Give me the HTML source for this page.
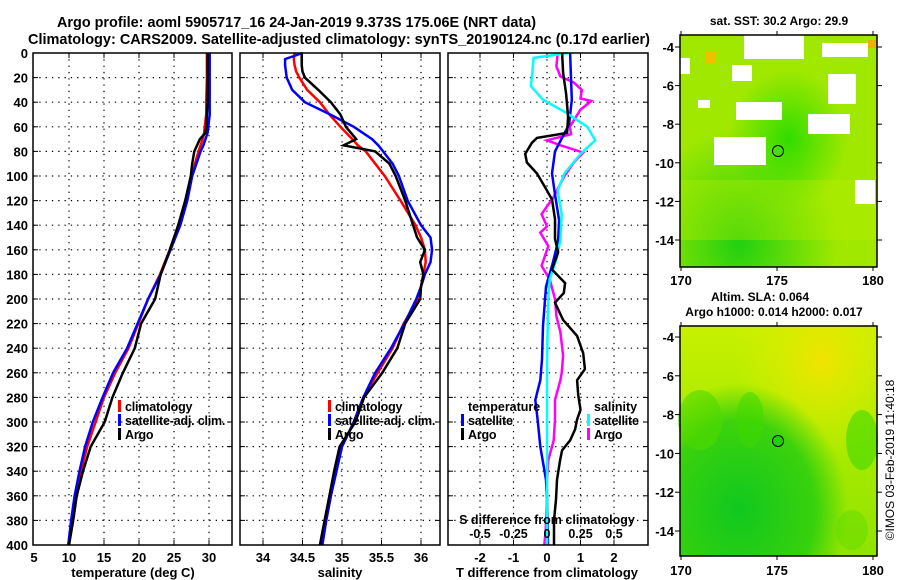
<!DOCTYPE html>
<html><head><meta charset="utf-8"><style>
html,body{margin:0;padding:0;background:#fff;}
svg{display:block;font-family:"Liberation Sans",Arial,sans-serif;font-weight:bold;}
</style></head><body>
<svg id="c" width="900" height="580" viewBox="0 0 900 580" xmlns="http://www.w3.org/2000/svg">
<defs>
<radialGradient id="ssta" cx="0.3" cy="0.9" r="0.5"><stop offset="0" stop-color="#22d010"/><stop offset="1" stop-color="#22d010" stop-opacity="0"/></radialGradient>
<radialGradient id="sstb" cx="0.55" cy="0.45" r="0.3"><stop offset="0" stop-color="#30dc00"/><stop offset="1" stop-color="#30dc00" stop-opacity="0"/></radialGradient>
<radialGradient id="slaY" cx="0.72" cy="0.15" r="0.45"><stop offset="0" stop-color="#f0e400"/><stop offset="1" stop-color="#d8f000" stop-opacity="0"/></radialGradient>
<linearGradient id="slaG" x1="0" y1="0" x2="0" y2="1"><stop offset="0" stop-color="#c8f000"/><stop offset="0.35" stop-color="#b0ec00"/><stop offset="1" stop-color="#90e400"/></linearGradient>
<radialGradient id="slaD" cx="0.3" cy="0.8" r="0.55"><stop offset="0" stop-color="#10c820"/><stop offset="0.7" stop-color="#20cc10" stop-opacity="0.8"/><stop offset="1" stop-color="#20cc10" stop-opacity="0"/></radialGradient>
</defs>
<g id="titles">
<text x="57" y="27" font-size="15" textLength="479" lengthAdjust="spacingAndGlyphs">Argo profile: aoml 5905717_16 24-Jan-2019 9.373S 175.06E (NRT data)</text>
<text x="28" y="44" font-size="15" textLength="622" lengthAdjust="spacingAndGlyphs">Climatology: CARS2009. Satellite-adjusted climatology: synTS_20190124.nc (0.17d earlier)</text>
</g>
<g id="p1"></g><g id="p2"></g><g id="p3"></g>
<g id="maps">
<g>
<rect x="680" y="35" width="197" height="232" fill="#a0e800"/>
<rect x="680" y="35" width="197" height="232" fill="url(#ssta)"/>
<rect x="680" y="35" width="197" height="232" fill="url(#sstb)"/>
<rect x="680" y="180" width="197" height="60" fill="#b8ee00" opacity="0.35"/>
<rect x="705" y="52" width="10" height="12" fill="#f0c000"/>
<rect x="868" y="40" width="8" height="8" fill="#f0b000"/>
<g fill="#fff">
<rect x="744" y="35" width="60" height="24"/>
<rect x="822" y="43" width="46" height="14"/><rect x="680" y="58" width="10" height="16"/>
<rect x="732" y="65" width="20" height="16"/>
<rect x="828" y="74" width="28" height="30"/>
<rect x="736" y="102" width="46" height="18"/>
<rect x="714" y="137" width="52" height="28"/>
<rect x="808" y="114" width="42" height="20"/>
<rect x="855" y="180" width="20" height="24"/><rect x="698" y="100" width="12" height="8"/>
</g>
<circle cx="778" cy="151" r="5.5" fill="none" stroke="#000" stroke-width="1"/>
<rect x="680" y="35" width="197" height="232" fill="none" stroke="#000" stroke-width="1.5"/>
</g>
<g>
<rect x="680" y="326" width="197" height="230" fill="url(#slaG)"/>
<rect x="680" y="326" width="197" height="230" fill="url(#slaY)"/>
<rect x="680" y="326" width="197" height="230" fill="url(#slaD)"/>
<ellipse cx="700" cy="420" rx="22" ry="30" fill="#50d800" opacity="0.6"/>
<ellipse cx="750" cy="420" rx="14" ry="28" fill="#40d800" opacity="0.55"/>
<ellipse cx="862" cy="440" rx="16" ry="30" fill="#40d800" opacity="0.6"/>
<ellipse cx="852" cy="530" rx="16" ry="20" fill="#60dc00" opacity="0.5"/>
<circle cx="778" cy="441" r="5.5" fill="#20d000" stroke="#000" stroke-width="1"/>
<rect x="680" y="326" width="197" height="230" fill="none" stroke="#000" stroke-width="1.5"/>
</g>
</g>
<g id="mapaxes"></g>
<text transform="translate(894,460) rotate(-90)" text-anchor="middle" font-size="12" font-weight="normal">©IMOS 03-Feb-2019 11:40:18</text>
</svg>
<script>
const tDepth = [0,20,40,50,60,65,70,75,80,90,100,120,140,160,180,200,220,240,260,280,300,320,340,360,380,400];
const tArgo  = [29.8,29.8,29.8,29.7,29.6,29.5,28.7,28.3,27.9,27.6,27.4,26.6,25.6,24.4,23.1,22.3,20.3,19.4,17.7,16.2,15.1,13.1,12.0,11.1,10.6,10.0];
const tClim  = [29.7,29.7,29.6,29.6,29.4,29.3,29.1,28.8,28.5,28.0,27.5,26.8,25.7,24.4,23.0,21.3,19.9,18.5,16.6,15.0,13.8,12.6,11.7,11.0,10.4,9.9];
const tSat   = [30.1,30.1,30.1,30.1,29.9,29.8,29.5,29.2,28.8,28.2,27.6,26.9,25.9,24.5,23.1,21.3,19.8,18.3,16.3,14.8,13.4,12.3,11.5,10.8,10.3,9.9];
const sDepth = [0,5,10,15,20,30,40,50,60,70,75,80,90,100,120,140,150,160,170,180,190,200,220,240,260,280,300,320,340,360,380,400];
const sArgo  = [34.49,34.49,34.49,34.5,34.53,34.7,34.86,34.98,35.05,35.18,35.02,35.42,35.6,35.68,35.8,35.9,35.95,36.05,35.99,36.03,36.0,35.99,35.8,35.7,35.51,35.28,35.17,34.97,34.9,34.84,34.78,34.72];
const sClim  = [34.4,34.39,34.4,34.42,34.46,34.56,34.72,34.84,34.98,35.13,35.2,35.3,35.42,35.54,35.74,35.93,36.0,36.05,36.06,36.03,36.0,35.97,35.78,35.64,35.45,35.27,35.15,35.0,34.92,34.86,34.8,34.75];
const sSat   = [34.5,34.28,34.28,34.29,34.3,34.37,34.53,34.85,35.15,35.38,35.46,35.52,35.64,35.72,35.83,36.0,36.12,36.14,36.12,36.05,36.0,35.94,35.79,35.62,35.42,35.27,35.15,35.0,34.93,34.86,34.8,34.75];
const dtSatDepth = [0,38,58,80,98,115,136,153,170,190,222,249,266,282,298,320,347,363,400];
const dtSat      = [0.69,0.74,0.66,0.24,0.15,0.24,0.36,0.33,0.18,-0.03,-0.12,-0.15,-0.2,-0.35,-0.28,-0.2,-0.03,0.0,0.03];
const dtArgoDepth = [0,16,33,52,65,69,73,82,89,98,109,119,135,151,162,176,187,195,203,217,230,244,257,266,278,290,298,306,315,323,331,347,363,380,400];
const dtArgo      = [0.45,0.48,0.57,0.63,0.6,-0.3,-0.45,-0.65,-0.6,-0.3,-0.06,0.15,0.24,0.24,0.33,0.15,0.54,0.5,0.24,0.48,0.9,1.08,1.13,0.9,0.93,1.0,0.9,0.84,0.69,0.45,0.39,0.3,0.27,0.21,0.21];
const dsSatDepth = [0,4,16,27,38,49,60,71,82,98,112,131,152,168,184,200,250,300,350,400];
const dsSat      = [0.16,-0.1,-0.11,-0.12,-0.03,0.15,0.3,0.36,0.25,0.13,0.08,0.11,0.1,0.07,0.02,0.01,0.0,0.0,0.0,0.0];
const dsArgoDepth = [0,11,19,24,30,37,39,46,60,66,71,75,81,89,100,117,131,141,146,157,173,184,200,214,227,246,260,266,282,298,315,331,347,363,388,400];
const dsArgo      = [0.08,0.07,0.1,0.2,0.26,0.25,0.33,0.25,0.17,0.18,0.0,0.1,0.27,0.2,0.13,0.05,-0.04,0.0,-0.05,0.01,-0.04,0.02,0.06,0.07,0.1,0.12,0.11,0.1,0.06,0.06,0.05,0.01,0.0,0.0,-0.01,-0.02];
const depthTicks = [0,20,40,60,80,100,120,140,160,180,200,220,240,260,280,300,320,340,360,380,400];
const tTicks = [5,10,15,20,25,30];
const sTicks = [34,34.5,35,35.5,36];
const dtTicks = [-2,-1,0,1,2];
const dsTicks = [-0.5,-0.25,0,0.25,0.5];
const dsTickLabels = ["-0.5","-0.25","0","0.25","0.5"];
const latTicks = [-4,-6,-8,-10,-12,-14];
const lonTicks = [170,175,180];

const NS='http://www.w3.org/2000/svg';
const top0=53, bot0=545;
const yD = d => top0 + d*(bot0-top0)/400;
const xT = t => 34 + (t-5)*7.0;
const xS = s => 263 + (s-34)*79;
const xDT = v => 547 + v*33.5;
const xDS = v => 547 + v*134;
const xLon = l => 681 + (l-170)*19.2;
const yLat1 = l => 47 + (-4-l)*19.3;
const yLat2 = l => 337 + (-4-l)*19.4;
function el(tag, attrs, parent){const e=document.createElementNS(NS,tag);for(const k in attrs)e.setAttribute(k,attrs[k]);parent.appendChild(e);return e;}
function txt(parent,x,y,s,size,anchor){const t=el('text',{x:x,y:y,'font-size':size,'text-anchor':anchor||'middle'},parent);t.textContent=s;return t;}

function panel(gid, x0, x1, xTicksArr, xf, tickLabels, name){
  const g=document.getElementById(gid);
  
  
  depthTicks.forEach(d=>{ if(d>0&&d<400){const l=el('line',{x1:x0,x2:x1,y1:yD(d),y2:yD(d),stroke:'#000','stroke-width':1.2,'stroke-dasharray':'1.3,5'},g);
    
    
    el('line',{x1:x0,x2:x0+5,y1:yD(d),y2:yD(d),stroke:'#000'},g);el('line',{x1:x1-5,x2:x1,y1:yD(d),y2:yD(d),stroke:'#000'},g);}});
  xTicksArr.forEach((v,i)=>{const x=xf(v); if(x>x0+1&&x<x1-1){const l=el('line',{x1:x,x2:x,y1:top0,y2:bot0,stroke:'#000','stroke-width':1.2,'stroke-dasharray':'1.3,5'},g);
    
    
    el('line',{x1:x,x2:x,y1:top0,y2:top0+5,stroke:'#000'},g);el('line',{x1:x,x2:x,y1:bot0-5,y2:bot0,stroke:'#000'},g);}
    if(tickLabels){const t=txt(g,x,562,tickLabels[i],13);
      
      }});
  return g;
}
function line(g, xs, ds, xf, color, w, name){
  const pts=xs.map((v,i)=>xf(v).toFixed(1)+','+yD(ds[i]).toFixed(1)).join(' ');
  const p=el('polyline',{points:pts,fill:'none',stroke:color,'stroke-width':w||2.5,'stroke-linejoin':'miter'},g);
  
  
}
function frame(g,x0,x1){const r=el('rect',{x:x0,y:top0,width:x1-x0,height:bot0-top0,fill:'none',stroke:'#000','stroke-width':1.5},g);
  
  }
function legend(g,x,y,color,label){el('rect',{x:x,y:y-11,width:3,height:12,fill:color},g);const t=txt(g,x+7,y,label,12.5,'start');
  t.setAttribute('letter-spacing','-0.2');
  
  }

const g1=panel('p1',33,232,tTicks,xT,tTicks.map(String),'temperature-panel');
depthTicks.forEach(d=>{const t=txt(g1,28,yD(d)+5,String(d),13,'end');
  
  });
line(g1,tClim,tDepth,xT,'#ff0000',2.5,'temperature-climatology-line');
line(g1,tSat,tDepth,xT,'#0000ff',2.5,'temperature-satellite-line');
line(g1,tArgo,tDepth,xT,'#000000',2.5,'temperature-argo-line');
frame(g1,33,232);
legend(g1,118,411,'#f00','climatology');legend(g1,118,425,'#00f','satellite-adj. clim.');legend(g1,118,439,'#000','Argo');
const a1=txt(g1,133,577,'temperature (deg C)',13);



const g2=panel('p2',240,440,sTicks,xS,sTicks.map(String),'salinity-panel');
line(g2,sClim,sDepth,xS,'#ff0000',2.5,'salinity-climatology-line');
line(g2,sSat,sDepth,xS,'#0000ff',2.5,'salinity-satellite-line');
line(g2,sArgo,sDepth,xS,'#000000',2.5,'salinity-argo-line');
frame(g2,240,440);
legend(g2,328,411,'#f00','climatology');legend(g2,328,425,'#00f','satellite-adj. clim.');legend(g2,328,439,'#000','Argo');
const a2=txt(g2,340,577,'salinity',13);



const g3=panel('p3',448,648,dtTicks,xDT,dtTicks.map(String),'difference-panel');
line(g3,dsArgo,dsArgoDepth,xDS,'#ff00ff',2.5,'salinity-argo-diff-line');
line(g3,dtSat,dtSatDepth,xDT,'#0000ff',2.5,'temperature-satellite-diff-line');
line(g3,dsSat,dsSatDepth,xDS,'#00ffff',2.5,'salinity-satellite-diff-line');
line(g3,dtArgo,dtArgoDepth,xDT,'#000000',2.5,'temperature-argo-diff-line');
frame(g3,448,648);
txt(g3,468,411,'temperature',12.5,'start');
legend(g3,461,425,'#00f','satellite');legend(g3,461,439,'#000','Argo');
txt(g3,594,411,'salinity',12.5,'start');
legend(g3,587,425,'#0ff','satellite');legend(g3,587,439,'#f0f','Argo');
const sdt=txt(g3,547,524,'S difference from climatology',12.5);


dsTicks.forEach((v,i)=>{const t=txt(g3,xDS(v),538,dsTickLabels[i],12.5);
  
  });
const a3=txt(g3,547,577,'T difference from climatology',13);



const gm=document.getElementById('mapaxes');
[[yLat1,35,267,282],[yLat2,326,556,572]].forEach(([yf,t0,b0,ly])=>{
  latTicks.forEach(l=>{const y=yf(l);el('line',{x1:675,x2:680,y1:y,y2:y,stroke:'#000'},gm);el('line',{x1:877,x2:882,y1:y,y2:y,stroke:'#000'},gm);
    const t=txt(gm,674,y+5,String(l),13,'end');
    
    });
  lonTicks.forEach(l=>{const x=xLon(l);el('line',{x1:x,x2:x,y1:t0-4,y2:t0,stroke:'#000'},gm);el('line',{x1:x,x2:x,y1:b0,y2:b0+4,stroke:'#000'},gm);
    const t=txt(gm,x,ly+3,String(l),13);
    
    });
});
const m1=txt(gm,779,25,'sat. SST: 30.2 Argo: 29.9',12);


const m2=txt(gm,760,301,'Altim. SLA: 0.064',12);


const m3=txt(gm,774,316,'Argo h1000: 0.014 h2000: 0.017',12);


</script>
</body></html>
